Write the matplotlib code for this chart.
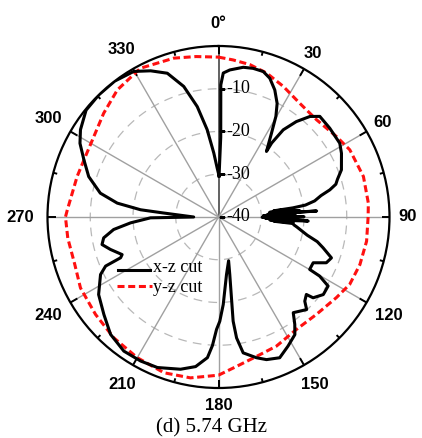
import numpy as np
import matplotlib
matplotlib.use("Agg")
import matplotlib.pyplot as plt
from matplotlib.lines import Line2D
from matplotlib.transforms import offset_copy

# ---------------- data (angle in degrees, level in dB) ----------------
xz_angle = [0.8, 1.6, 1.0, 1.9, 4.4, 9.4, 13.1, 17.1, 20.3, 23.9, 27.3, 29.7, 32.3, 36.2,
            35.7, 36.6, 39.2, 42.3, 45.2, 51.4, 58.7, 62.6, 69.0, 72.4, 74.4, 76.3, 78.2,
            80.5, 82.2, 83.0, 83.6, 84.2, 84.8, 85.4, 86.0, 86.5, 87.0, 87.6, 88.2, 88.8,
            89.4, 89.8, 90.4, 91.0, 91.6, 92.2, 92.6, 93.2, 93.8, 94.4, 95.0, 95.9, 97.3,
            99.5, 101.6, 104.0, 106.4, 109.9, 113.0, 115.8, 119.9, 120.3, 122.2, 126.5,
            130.5, 131.4, 134.3, 136.4, 139.2, 142.0, 144.6, 147.0, 151.7, 156.5, 161.4,
            164.9, 169.7, 171.5, 172.0, 170.9, 168.9, 167.0, 172.1, 176.9, 179.3, 181.0,
            182.7, 184.5, 188.7, 194.0, 202.1, 208.4, 215.2, 222.6, 229.6, 237.1, 244.0,
            246.5, 247.4, 248.7, 253.3, 256.7, 259.7, 263.2, 266.2, 269.3, 270.0, 273.5,
            274.2, 275.3, 277.8, 281.4, 287.3, 293.0, 298.0, 302.3, 308.9, 315.6, 322.6,
            329.8, 335.1, 340.4, 345.1, 349.1, 352.6, 355.8, 358.5, 0.8]
xz_db = [-30.4, -21.3, -9.1, -6.3, -5.5, -4.5, -4.3, -4.4, -5.4, -7.5, -10.1, -12.9, -16.8, -21.0,
         -18.7, -14.6, -11.2, -8.2, -6.6, -6.7, -6.8, -7.6, -9.2, -10.8, -11.5, -13.2, -15.5,
         -17.2, -19.5, -22.5, -27.0, -22.5, -28.0, -21.0, -27.5, -17.0, -28.5, -22.0, -29.5, -23.0,
         -29.5, -20.0, -29.8, -22.5, -29.0, -21.0, -19.0, -28.0, -22.5, -27.0, -22.5, -22.3, -21.5,
         -20.2, -18.8, -16.2, -14.5, -11.9, -12.6, -15.4, -15.4, -12.6, -9.7, -9.5,
         -10.9, -12.6, -11.8, -10.1, -10.9, -11.6, -9.2, -7.2, -5.7, -4.1, -4.8,
         -5.9, -7.7, -11.4, -15.4, -20.9, -26.3, -29.5, -26.4, -19.5, -15.6, -13.7,
         -9.9, -7.0, -4.6, -3.3, -2.0, -1.7, -1.6, -2.7, -4.8, -6.6, -9.3,
         -11.2, -15.2, -15.8, -13.6, -12.0, -12.7, -15.3, -19.4, -24.1, -34.2, -29.0,
         -27.0, -21.7, -16.1, -11.8, -8.2, -5.8, -3.3, -1.8, -0.2, 0.0, 0.0,
         -0.6, -2.3, -4.3, -8.4, -13.7, -19.4, -25.0, -28.6, -30.4]

yz_angle = [0, 5.3, 11.6, 18.5, 26.4, 35.5, 45.2, 55.7, 62.9, 74.4, 84.7, 90, 99.3, 108.6,
            117.2, 124.4, 134.9, 145.3, 155.8, 164.7, 173.1, 180, 189.9, 199.3, 210, 220.9,
            231.6, 242.8, 251.8, 262.0, 270, 272.7, 286, 294.5, 302.8, 312.1, 321.5, 332.3,
            344.3, 352.0, 360]
yz_db = [-2.6, -3.1, -3.6, -4.5, -5.9, -7.3, -7.7, -6.6, -5.5, -4.8, -4.8, -5.0, -4.9, -5.1,
         -5.5, -6.6, -7.7, -8.0, -6.9, -6.2, -4.8, -3.0, -1.8, -1.4, -2.0, -2.6,
         -3.3, -3.7, -4.6, -4.4, -4.2, -4.6, -5.6, -5.8, -5.3, -3.8, -2.0, -0.7,
         -1.4, -2.1, -2.6]

series_labels = ["x-z cut", "y-z cut"]
r_ticks = [-10, -20, -30, -40]
r_tick_labels = ["-10", "-20", "-30", "-40"]
angle_ticks = [0, 30, 60, 90, 120, 150, 180, 210, 240, 270, 300, 330]
angle_labels = ["0\u00b0", "30", "60", "90", "120", "150", "180", "210", "240", "270", "300", "330"]
caption = "(d) 5.74 GHz"

# ---------------- figure ----------------
W, H = 422, 438
fig = plt.figure(figsize=(W / 100, H / 100), dpi=100)
cx, cy, R = 218.5, 217.0, 171.0
ax = fig.add_axes([(cx - R) / W, 1 - (cy + R) / H, 2 * R / W, 2 * R / H], projection="polar")
ax.set_theta_zero_location("N")
ax.set_theta_direction(-1)
rmin, rmax = -40, 0
ax.set_ylim(rmin, rmax)
ax.set_xticks([])
ax.set_yticks([])
ax.grid(False)
ax.spines["polar"].set_linewidth(1.6)
ax.spines["polar"].set_color("black")

def px2db(p):
    return rmin + (rmax - rmin) * p / R

# dashed grid circles
th = np.linspace(0, 2 * np.pi, 361)
for r in r_ticks[:-1]:
    ax.plot(th, np.full_like(th, r), color="#b8b8b8", lw=0.9, ls=(0, (7, 5)), zorder=1)
# spokes
for a in angle_ticks:
    col = "#555555" if a == 0 else "#a0a0a0"
    ax.plot([np.deg2rad(a)] * 2, [rmin, rmax], color=col, lw=1.0 if a else 1.3, zorder=1)
# outer ticks every 15 deg
for a in range(0, 360, 15):
    L = 8 if a % 30 == 0 else 4
    ax.plot([np.deg2rad(a)] * 2, [rmax, px2db(R - L)], color="black", lw=1.4, zorder=3,
            solid_capstyle="butt")

# radial tick marks and labels along 0 deg
ax.plot(np.zeros(len(r_ticks)), r_ticks, ls="none", marker=1, markersize=4, mew=1.0,
        color="black", zorder=4)
tr = offset_copy(ax.transData, fig=fig, x=5.5, y=0, units="points")
for r, lab in zip(r_ticks, r_tick_labels):
    ax.text(0, r, lab, transform=tr, ha="left", va="center", family="Liberation Serif",
            fontsize=13, zorder=5)

# angle labels
for a, lab in zip(angle_ticks, angle_labels):
    s = abs(np.sin(np.deg2rad(a)))
    rp = 194 if a == 0 else 189 + (9 if len(lab) == 3 else 0) * s
    ax.text(np.deg2rad(a), px2db(rp), lab, ha="center", va="center", fontsize=12,
            fontweight="bold", family="Liberation Sans", clip_on=False)

# data
ax.plot(np.deg2rad(yz_angle), yz_db, color="#ff1010", lw=2.2, ls=(0, (2.3, 1.2)), zorder=6)
ax.plot(np.deg2rad(xz_angle), xz_db, color="black", lw=2.2, zorder=7, solid_joinstyle="round")

# legend (manual, no frame)
def fx(x):
    return x / W

def fy(y):
    return 1 - y / H

fig.add_artist(Line2D([fx(118), fx(150)], [fy(269.5), fy(269.5)], color="black", lw=2.2))
fig.add_artist(Line2D([fx(117), fx(152)], [fy(285.5), fy(285.5)], color="#ff1010", lw=2.2,
                      ls=(0, (2.3, 1.2))))
fig.text(fx(153), fy(267), series_labels[0], ha="left", va="center",
         family="Liberation Serif", fontsize=13)
fig.text(fx(153), fy(287), series_labels[1], ha="left", va="center",
         family="Liberation Serif", fontsize=13)

fig.text(fx(211.5), fy(427.5), caption, ha="center", va="center",
         family="Liberation Serif", fontsize=15)

fig.savefig("out.png", dpi=100)
